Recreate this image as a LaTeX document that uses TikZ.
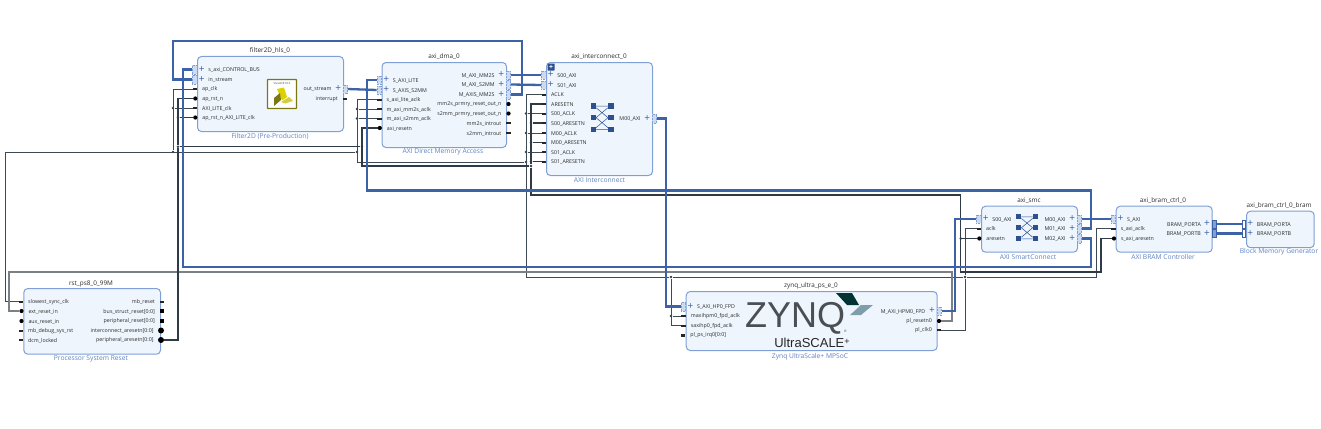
\documentclass[tikz,border=0pt]{standalone}
\usepackage{fontspec}
\setmainfont{Open Sans}
\newfontfamily\logofont{Liberation Sans}
\definecolor{blockfill}{HTML}{EEF5FD}
\definecolor{blockline}{HTML}{7F9FD6}
\definecolor{subblue}{HTML}{5F82C2}
\definecolor{busblue}{HTML}{3C62A8}
\definecolor{clkdark}{HTML}{3E4953}
\definecolor{rstdark}{HTML}{2F3A47}
\definecolor{resetgray}{HTML}{7B8084}
\definecolor{labelgray}{HTML}{2B2B2B}
\definecolor{xbarblue}{HTML}{2C5090}
\definecolor{logogray}{HTML}{4B4F54}
\tikzset{
	block/.style={draw=blockline, fill=blockfill, line width=1pt, rounded corners=4pt, anchor=north west, inner sep=0pt},
	title/.style={font=\fontsize{6.4}{7}\selectfont, text=labelgray, inner sep=0pt},
	subtitle/.style={font=\fontsize{6.7}{7}\selectfont, text=subblue, inner sep=0pt},
	lbl/.style={font=\fontsize{5.3}{6}\selectfont, text=labelgray, inner sep=0pt, yshift=-.5pt},
	plus/.style={font=\fontsize{10}{10}\selectfont, text=busblue, inner sep=0pt},
	bar/.style={rectangle, fill=black!85, inner sep=0pt, minimum width=4.5pt, minimum height=2pt},
	blob/.style={circle, fill=black, inner sep=0pt, minimum size=4.2pt},
	bigblob/.style={circle, fill=black, inner sep=0pt, minimum size=6pt},
	sqr/.style={rectangle, fill=black, inner sep=0pt, minimum width=3.5pt, minimum height=3.5pt},
	box/.style={rectangle, draw=blockline, densely dotted, fill=blockfill!70!blockline, line width=.5pt, inner sep=0pt, minimum width=4.5pt, minimum height=8.5pt},
	clkl/.style={bar, label={[lbl,label distance=4.5pt]0:{#1}}},
	clkr/.style={bar, label={[lbl,label distance=4.5pt]180:{#1}}},
	rstl/.style={blob, label={[lbl,label distance=4.5pt]0:{#1}}},
	rstr/.style={blob, label={[lbl,label distance=4.5pt]180:{#1}}},
	sqrr/.style={sqr, label={[lbl,label distance=5pt]180:{#1}}},
	bigr/.style={bigblob, label={[lbl,label distance=4pt]180:{#1}}},
	busl/.style={box, label={[plus,label distance=1.5pt]0:+}, label={[lbl,label distance=11pt]0:{#1}}},
	busr/.style={box, label={[plus,label distance=1.5pt]180:+}, label={[lbl,label distance=11pt]180:{#1}}},
	bramr/.style={rectangle, fill=blockline, draw=busblue, line width=.4pt, inner sep=0pt, minimum width=3.5pt, minimum height=8pt, label={[plus,label distance=2pt]180:+}, label={[lbl,label distance=11pt]180:{#1}}},
	braml/.style={rectangle, draw=busblue, line width=.5pt, fill=white, inner sep=0pt, minimum width=3pt, minimum height=8pt, label={[plus,label distance=1.5pt]0:+}, label={[lbl,label distance=11pt]0:{#1}}},
	dot/.style={circle, fill=rstdark, inner sep=0pt, minimum size=2.8pt},
	clknet/.style={draw=clkdark, line width=1pt},
	rstnet/.style={draw=rstdark, line width=1.4pt},
	graynet/.style={draw=resetgray, line width=1.1pt},
	axinet/.style={draw=busblue, line width=2.3pt},
	xbar/.pic={
		\fill[xbarblue] (-11.5,-14.5) rectangle (-6,-9);
		\fill[xbarblue] (6,-14.5) rectangle (11.5,-9);
		\fill[xbarblue] (-11.5,-2.75) rectangle (-6,2.75);
		\fill[xbarblue] (6,-2.75) rectangle (11.5,2.75);
		\fill[xbarblue] (-11.5,9) rectangle (-6,14.5);
		\fill[xbarblue] (6,9) rectangle (11.5,14.5);
		\draw[xbarblue,line width=.5pt] (-6,-11.7) -- (6,-11.7) (-6,-10) -- (6,0) (6,-10) -- (-6,0) (-6,0) -- (6,10) (6,0) -- (-6,10) (-6,11.7) -- (6,11.7);
	}
}
\begin{document}
\begin{tikzpicture}[x=1pt,y=-1pt]
	\useasboundingbox (0,0) rectangle (1321,428);
	\node[block, minimum width=146pt, minimum height=75pt] (filter) at (197,56) {};
	\node[title] (filtertitle) at (270,50.5) {filter2D\_hls\_0};
	\node[subtitle] (filtersub) at (270,136) {Filter2D (Pre-Production)};
	\node[block, minimum width=124.5pt, minimum height=85pt] (dma) at (381.5,62) {};
	\node[title] (dmatitle) at (444,57) {axi\_dma\_0};
	\node[subtitle] (dmasub) at (443,151.5) {AXI Direct Memory Access};
	\node[block, minimum width=106pt, minimum height=113pt] (inter) at (546,62) {};
	\node[title] (intertitle) at (599,57) {axi\_interconnect\_0};
	\node[subtitle] (intersub) at (599.5,180.5) {AXI Interconnect};
	\node[block, minimum width=96pt, minimum height=46pt] (smc) at (981,205.7) {};
	\node[title] (smctitle) at (1029,200.5) {axi\_smc};
	\node[subtitle] (smcsub) at (1028,257) {AXI SmartConnect};
	\node[block, minimum width=96pt, minimum height=46pt] (ctrl) at (1115.7,205.7) {};
	\node[title] (ctrltitle) at (1163,201) {axi\_bram\_ctrl\_0};
	\node[subtitle] (ctrlsub) at (1163,257) {AXI BRAM Controller};
	\node[block, minimum width=67.7pt, minimum height=36.5pt] (bram) at (1246,210.7) {};
	\node[title] (bramtitle) at (1279,205.5) {axi\_bram\_ctrl\_0\_bram};
	\node[subtitle] (bramsub) at (1279,252) {Block Memory Generator};
	\node[block, minimum width=251pt, minimum height=59pt] (zynq) at (685.7,291) {};
	\node[title] (zynqtitle) at (811,286) {zynq\_ultra\_ps\_e\_0};
	\node[subtitle] (zynqsub) at (810,356.5) {Zynq UltraScale+ MPSoC};
	\node[block, minimum width=136.7pt, minimum height=65.7pt] (rst) at (23.3,288) {};
	\node[title] (rsttitle) at (91,283.5) {rst\_ps8\_0\_99M};
	\node[subtitle] (rstsub) at (91,358.5) {Processor System Reset};

	\draw[draw=olive!85!black, fill=white, line width=1.4pt, rounded corners=.5pt] (267.5,79.5) rectangle (296.5,108.5);
	\node[font=\fontsize{2.8}{3}\selectfont, text=black!70, inner sep=0pt] (hlstext) at (282,83.5) {Vivado\raisebox{.6pt}{®} HLS};
	\fill[yellow!70!olive] (277,89) -- (284,87.5) -- (287,97) -- (282,100.5) -- cycle;
	\fill[olive!85!black] (274,106) -- (274,98) -- (280,93) -- (281,100) -- cycle;
	\fill[yellow!45!olive!70] (281,102) -- (289,97) -- (293,101) -- (285,103.5) -- cycle;
	\node[font=\logofont\fontsize{36}{36}\selectfont, text=logogray, inner sep=0pt] (zynqword) at (795,318) {ZYNQ};
	\node[font=\logofont\fontsize{3.5}{4}\selectfont, text=logogray, inner sep=0pt] (zynqreg) at (845.5,331.5) {®};
	\node[font=\logofont\fontsize{13}{14}\selectfont, text=black!85, inner sep=0pt] (ultra) at (812,343) {UltraSCALE\raisebox{3pt}{\fontsize{9}{9}\selectfont +}};
	\fill[black!60!teal] (836,293) -- (852,293) -- (859,305) -- (847,305) -- cycle;
	\fill[gray!60!cyan!70!gray] (861,305) -- (873,305) -- (861,315) -- (850,315) -- cycle;
	\pic at (602,117.7) {xbar};
	\pic[scale=.94] at (1027,227.8) {xbar};
	\node[fill=xbarblue, text=white, font=\fontsize{7}{7}\selectfont\bfseries, inner sep=0pt, minimum size=7pt, rounded corners=.5pt] (interplus) at (551,67) {+};

	\node[busl={s\_axi\_CONTROL\_BUS}] (fctl) at (194.7,69.5) {};
	\node[busl={in\_stream}] (fin) at (194.7,79.5) {};
	\node[clkl={ap\_clk}] (fclk) at (195,89) {};
	\node[rstl={ap\_rst\_n}] (frst) at (195.3,98.5) {};
	\node[clkl={AXI\_LITE\_clk}] (flclk) at (195,108) {};
	\node[rstl={ap\_rst\_n\_AXI\_LITE\_clk}] (flrst) at (195.3,117.5) {};
	\node[busr={out\_stream}] (fout) at (345.3,89) {};
	\node[clkr={interrupt}] (fint) at (345,98.5) {};

	\node[busl={S\_AXI\_LITE}] (dlite) at (379.2,80) {};
	\node[busl={S\_AXIS\_S2MM}] (ds2mm) at (379.2,90) {};
	\node[clkl={s\_axi\_lite\_aclk}] (dlclk) at (379.5,99.5) {};
	\node[clkl={m\_axi\_mm2s\_aclk}] (dmclk) at (379.5,109) {};
	\node[clkl={m\_axi\_s2mm\_aclk}] (dsclk) at (379.5,118.5) {};
	\node[rstl={axi\_resetn}] (drst) at (379.8,128) {};
	\node[busr={M\_AXI\_MM2S}] (dmm) at (508.3,75) {};
	\node[busr={M\_AXI\_S2MM}] (dsm) at (508.3,84.5) {};
	\node[busr={M\_AXIS\_MM2S}] (dmaxis) at (508.3,94.5) {};
	\node[rstr={mm2s\_prmry\_reset\_out\_n}] (dmro) at (508.5,104) {};
	\node[rstr={s2mm\_prmry\_reset\_out\_n}] (dsro) at (508.5,113.5) {};
	\node[clkr={mm2s\_introut}] (dmi) at (508.5,123) {};
	\node[clkr={s2mm\_introut}] (dsi) at (508.5,133) {};

	\node[busl={S00\_AXI}] (is00) at (543.7,75) {};
	\node[busl={S01\_AXI}] (is01) at (543.7,85) {};
	\node[clkl={ACLK}] (iaclk) at (544,94.5) {};
	\node[clkl={ARESETN}] (iares) at (544,104) {};
	\node[clkl={S00\_ACLK}] (is0ck) at (544,113.5) {};
	\node[clkl={S00\_ARESETN}] (is0rs) at (544,123) {};
	\node[clkl={M00\_ACLK}] (im0ck) at (544,133) {};
	\node[clkl={M00\_ARESETN}] (im0rs) at (544,142.5) {};
	\node[clkl={S01\_ACLK}] (is1ck) at (544,152) {};
	\node[clkl={S01\_ARESETN}] (is1rs) at (544,161.5) {};
	\node[busr={M00\_AXI}] (im00) at (654.3,118.5) {};

	\node[busl={S00\_AXI}] (ss00) at (978.7,219) {};
	\node[clkl={aclk}] (sclk) at (979,228.5) {};
	\node[rstl={aresetn}] (srst) at (979.3,238.5) {};
	\node[busr={M00\_AXI}] (sm00) at (1079.3,219) {};
	\node[busr={M01\_AXI}] (sm01) at (1079.3,228.5) {};
	\node[busr={M02\_AXI}] (sm02) at (1079.3,238.5) {};

	\node[busl={S\_AXI}] (cs) at (1113.4,219) {};
	\node[clkl={s\_axi\_aclk}] (cclk) at (1113.7,228.5) {};
	\node[rstl={s\_axi\_aresetn}] (crst) at (1114,238.5) {};
	\node[bramr={BRAM\_PORTA}] (cpa) at (1214,224) {};
	\node[bramr={BRAM\_PORTB}] (cpb) at (1214,233.5) {};
	\node[braml={BRAM\_PORTA}] (bpa) at (1244,224) {};
	\node[braml={BRAM\_PORTB}] (bpb) at (1244,233.5) {};

	\node[busl={S\_AXI\_HP0\_FPD}] (zhp) at (683.4,306.5) {};
	\node[clkl={maxihpm0\_fpd\_aclk}] (zmck) at (683.7,316) {};
	\node[clkl={saxihp0\_fpd\_aclk}] (zsck) at (683.7,325.5) {};
	\node[bar, minimum height=3pt, label={[lbl,label distance=4.5pt]0:{pl\_ps\_irq0[0:0]}}] (zirq) at (683.2,335) {};
	\node[busr={M\_AXI\_HPM0\_FPD}] (zhpm) at (939,311) {};
	\node[rstr={pl\_resetn0}] (zrst) at (939,321) {};
	\node[clkr={pl\_clk0}] (zclk) at (939,330) {};

	\node[clkl={slowest\_sync\_clk}] (rclk) at (21,301.7) {};
	\node[rstl={ext\_reset\_in}] (rext) at (21.5,311) {};
	\node[rstl={aux\_reset\_in}] (raux) at (21.5,321) {};
	\node[clkl={mb\_debug\_sys\_rst}] (rdbg) at (21,330.5) {};
	\node[clkl={dcm\_locked}] (rdcm) at (21,340) {};
	\node[clkr={mb\_reset}] (rmb) at (162,301.7) {};
	\node[sqrr={bus\_struct\_reset[0:0]}] (rbus) at (162,311) {};
	\node[sqrr={peripheral\_reset[0:0]}] (rper) at (162,321) {};
	\node[bigr={interconnect\_aresetn[0:0]}] (ria) at (161,330.5) {};
	\node[bigr={peripheral\_aresetn[0:0]}] (rpa) at (161,340) {};

	\coordinate (clksouth) at (526,277);
	\coordinate (clkdma) at (357,162);
	\coordinate (clkwest) at (5,152);
	\coordinate (clkfar) at (1096,277);
	\coordinate (rstdma) at (362,128);
	\coordinate (rstnorth) at (531,195);
	\coordinate (rstsmc) at (960.7,195);
	\coordinate (rstlow) at (960.7,272);
	\coordinate (rstfar) at (1101,272);
	\coordinate (plnorth) at (952,272);
	\coordinate (plwest) at (9,272);
	\coordinate (loopne) at (521.7,41);
	\coordinate (loopnw) at (173,41);
	\coordinate (loopsw) at (173,79.5);
	\coordinate (hpcorner) at (666,306.5);
	\coordinate (hpmup) at (955,311);
	\coordinate (ctlsw) at (183,267);
	\coordinate (ctlse) at (1090.7,267);
	\coordinate (ctlne) at (183,69.5);
	\coordinate (litesw) at (367,190.5);
	\coordinate (litese) at (1090.7,190.5);
	\coordinate (litene) at (367,80);

	\node[dot] (cj1) at (965,277) {};
	\node[dot] (cj2) at (671,277) {};
	\node[dot] (cj3) at (671,316) {};
	\node[dot] (cj4) at (357,152) {};
	\node[dot] (cj5) at (357,109) {};
	\node[dot] (cj6) at (357,118.5) {};
	\node[dot] (cj7) at (173,152) {};
	\node[dot] (cj8) at (173,108) {};
	\node[dot] (cj9) at (526,113.5) {};
	\node[dot] (cj10) at (526,133) {};
	\node[dot] (cj11) at (526,152) {};
	\node[dot] (cj12) at (526,162) {};
	\node[dot] (rj1) at (178,146.7) {};
	\node[dot] (rj2) at (178,117.5) {};
	\node[dot] (rj3) at (362,146.7) {};
	\node[dot] (rj4) at (531,166) {};
	\node[dot] (rj5) at (531,161.5) {};
	\node[dot] (rj6) at (531,142.5) {};
	\node[dot] (rj7) at (531,123) {};
	\node[dot] (rj8) at (960.7,238.5) {};

	\draw[clknet] (zclk.east) -| (cj1) |- (sclk.west);
	\draw[clknet] (cj1) -| (clkfar) |- (cclk.west);
	\draw[clknet] (cj1) -- (cj2) -- (clksouth) |- (iaclk.west);
	\draw[clknet] (cj2) |- (zsck.west);
	\draw[clknet] (cj3) -- (zmck.west);
	\draw[clknet] (cj9) -- (is0ck.west);
	\draw[clknet] (cj10) -- (im0ck.west);
	\draw[clknet] (cj11) -- (is1ck.west);
	\draw[clknet] (cj12) -- (clkdma) |- (dlclk.west);
	\draw[clknet] (cj5) -- (dmclk.west);
	\draw[clknet] (cj6) -- (dsclk.west);
	\draw[clknet] (cj4) -- (clkwest) |- (rclk.west);
	\draw[clknet] (cj7) |- (fclk.west);
	\draw[clknet] (cj8) -- (flclk.west);

	\draw[graynet] (zrst.east) -| (plnorth) -- (plwest) |- (rext.west);

	\draw[rstnet] (rpa.east) -| (rj1) |- (frst.west);
	\draw[rstnet] (rj2) -- (flrst.west);
	\draw[rstnet] (rj1) -- (rj3);
	\draw[rstnet] (drst.west) -- (rstdma) |- (rj4);
	\draw[rstnet] (rj4) |- (iares.west);
	\draw[rstnet] (rj5) -- (is1rs.west);
	\draw[rstnet] (rj6) -- (im0rs.west);
	\draw[rstnet] (rj7) -- (is0rs.west);
	\draw[rstnet] (rj4) -- (rstnorth) -- (rstsmc) -- (rstlow) -- (rstfar) |- (crst.west);
	\draw[rstnet] (rj8) -- (srst.west);

	\draw[axinet] (fout.east) -- (ds2mm.west);
	\draw[axinet] (dmm.east) -- (is00.west);
	\draw[axinet] (dsm.east) -- (is01.west);
	\draw[axinet] (dmaxis.east) -| (loopne) -- (loopnw) -- (loopsw) -- (fin.west);
	\draw[axinet] (im00.east) -| (hpcorner) -- (zhp.west);
	\draw[axinet] (zhpm.east) -- (hpmup) |- (ss00.west);
	\draw[axinet] (sm00.east) -- (cs.west);
	\draw[axinet] (sm02.east) -| (ctlse) -- (ctlsw) -- (ctlne) -- (fctl.west);
	\draw[axinet] (sm01.east) -| (litese) -- (litesw) -- (litene) -- (dlite.west);
	\draw[axinet] (cpa.east) -- (bpa.west);
	\draw[axinet] (cpb.east) -- (bpb.west);
\end{tikzpicture}
\end{document}
